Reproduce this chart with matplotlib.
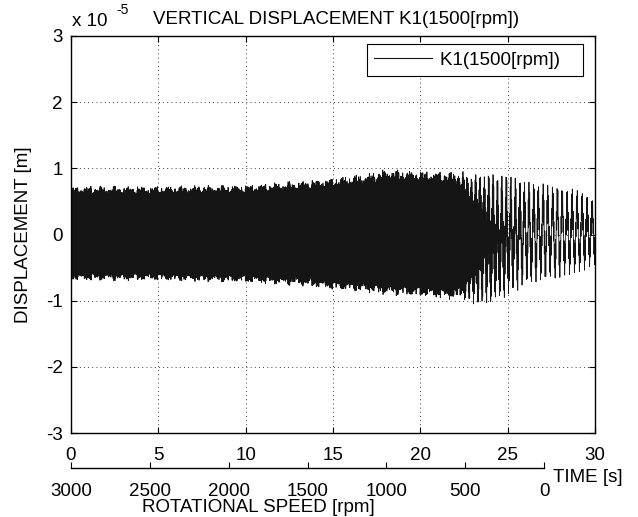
import matplotlib
matplotlib.use('Agg')
import matplotlib.pyplot as plt
import numpy as np

plt.rcParams['font.family'] = ['Liberation Sans', 'DejaVu Sans']
plt.rcParams['font.size'] = 13.5
plt.rcParams['axes.unicode_minus'] = False

# dense (fast) part of the response, edges (units of 1e-5 m)
hf_t = [0, 5, 10, 13, 15, 17, 18, 20, 22, 23, 24.5, 26, 28, 30]
hf_up = [0.68, 0.68, 0.70, 0.75, 0.80, 0.86, 0.92, 0.90, 0.88, 0.70, 0.45, 0.32, 0.28, 0.25]
hf_lo = [-0.65, -0.65, -0.68, -0.72, -0.78, -0.82, -0.85, -0.88, -0.92, -0.82, -0.55, -0.28, -0.20, -0.15]
hf_t_f = [0, 20, 30]
hf_hz = [50, 30, 20]

# slow swing that shows up near the end of the run-down
lf_t = [0, 21.5, 22.5, 23, 24, 25, 27, 29, 30]
lf_amp = [0, 0, 0.10, 0.20, 0.38, 0.48, 0.47, 0.42, 0.30]
lf_t_f = [0, 22, 30]
lf_hz = [4.2, 4.2, 3.4]

time_ticks = [0, 5, 10, 15, 20, 25, 30]
y_ticks = [-3, -2, -1, 0, 1, 2, 3]
rpm_ticks = [3000, 2500, 2000, 1500, 1000, 500, 0]

fs = 1000
t = np.arange(0, 30, 1.0 / fs)
phi_hf = 2 * np.pi * np.cumsum(np.interp(t, hf_t_f, hf_hz)) / fs
phi_lf = 2 * np.pi * np.cumsum(np.interp(t, lf_t_f, lf_hz)) / fs
# ragged edge of the dense band
rag = 0.97 + 0.04 * np.sin(2 * np.pi * 1.3 * t) + 0.03 * np.sin(2 * np.pi * 3.7 * t + 0.5) \
    + 0.03 * np.sin(2 * np.pi * 7.9 * t + 1.3) + 0.03 * np.sin(2 * np.pi * 13.1 * t + 2.1) \
    + 0.02 * np.sin(2 * np.pi * 2.9 * t + 0.7)
s = np.sin(phi_hf)
hf = s * np.where(s > 0, np.interp(t, hf_t, hf_up), -np.interp(t, hf_t, hf_lo)) * rag
y = hf + np.interp(t, lf_t, lf_amp) * np.sin(phi_lf)

fig = plt.figure(figsize=(6.38, 5.17), dpi=100)
ax = fig.add_axes([71 / 638, 1 - 433 / 517, 524 / 638, 397 / 517])
ax.plot(t, y, color='#151515', lw=0.6, label='K1(1500[rpm])   ')
ax.set_xlim(0, 30)
ax.set_ylim(-3, 3)
ax.set_xticks(time_ticks)
ax.set_yticks(y_ticks)
ax.grid(True, color='black', linestyle=(0, (1, 4)), linewidth=0.6)
ax.tick_params(direction='in', length=4, width=0.8, pad=6, top=True, right=True)
ax.tick_params(axis='x', pad=10)
for sp in ax.spines.values():
    sp.set_linewidth(1.0)
ax.set_ylabel('DISPLACEMENT [m]', labelpad=10)

leg = ax.legend(loc='upper right', bbox_to_anchor=(0.977, 0.98), borderaxespad=0, fancybox=False,
                edgecolor='black', framealpha=1, handlelength=3.1, handletextpad=0.4, borderpad=0.4)
leg.get_frame().set_linewidth(0.8)
leg.get_lines()[0].set_linewidth(0.8)

fig.text(336 / 638, 1 - 20 / 517, 'VERTICAL DISPLACEMENT K1(1500[rpm])', ha='center', va='center')
fig.text(72 / 638, 1 - 22 / 517, 'x 10', ha='left', va='center')
fig.text(116 / 638, 1 - 10 / 517, '-5', ha='left', va='center', fontsize=10)

# rotational speed axis below
ax2 = fig.add_axes([71 / 638, 1 - 468 / 517, 473 / 638, 1e-6])
ax2.set_xlim(3000, 0)
ax2.set_xticks(rpm_ticks)
ax2.set_yticks([])
for k in ['top', 'left', 'right']:
    ax2.spines[k].set_visible(False)
ax2.spines['bottom'].set_linewidth(1.0)
ax2.tick_params(axis='x', direction='in', length=4, width=0.8, pad=11)
ax2.patch.set_visible(False)

fig.text(553 / 638, 1 - 478 / 517, 'TIME [s]', ha='left', va='center')
fig.text(258 / 638, 1 - 508 / 517, 'ROTATIONAL SPEED [rpm]', ha='center', va='center')

fig.savefig('out.png', dpi=100)
